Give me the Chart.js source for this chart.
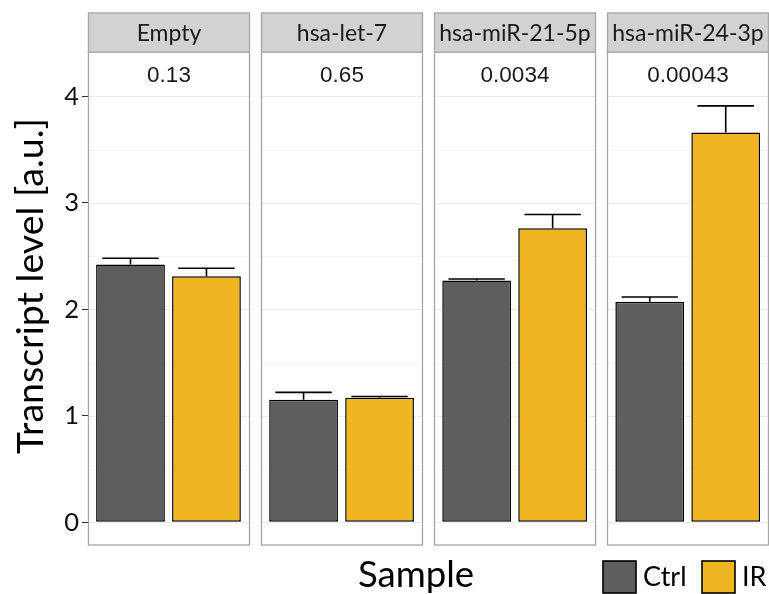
<!DOCTYPE html>
<html>
<head>
<meta charset="utf-8">
<script src="https://cdn.jsdelivr.net/npm/chart.js@4.4.1/dist/chart.umd.min.js"></script>
<style>
  html, body { margin: 0; padding: 0; background: #fff; }
  #wrap { position: relative; width: 769px; height: 594px; }
</style>
</head>
<body>
<div id="wrap"><canvas id="mirChart" width="769" height="594"></canvas></div>
<script>
// Datos del gráfico
const panels = ['Empty', 'hsa-let-7', 'hsa-miR-21-5p', 'hsa-miR-24-3p'];
const pValues = ['0.13', '0.65', '0.0034', '0.00043'];
const ctrlMean = [2.42, 1.15, 2.27, 2.07];
const ctrlErr = [0.06, 0.07, 0.015, 0.045];
const irMean = [2.31, 1.17, 2.76, 3.66];
const irErr = [0.075, 0.012, 0.13, 0.25];
const groups = ['Ctrl', 'IR'];
const yTicks = [0, 1, 2, 3, 4];
const yMinor = [0.5, 1.5, 2.5, 3.5];
const pLabelY = 4.19;

const colors = { Ctrl: '#5e5e5e', IR: '#efb522' };
const panelHalf = 0.464;
const stripHeight = 39;

// Plugin para paneles tipo facet (fondo, rejilla, cabeceras, barras de error)
const facetPlugin = {
    id: 'facets',
    beforeDatasetsDraw(chart) {
        const { ctx, chartArea, scales: { x, y } } = chart;
        ctx.save();
        panels.forEach((name, i) => {
            const left = Math.round(x.getPixelForValue(i - panelHalf)) + 0.5;
            const right = Math.round(x.getPixelForValue(i + panelHalf)) + 0.5;
            ctx.lineWidth = 1;
            yMinor.forEach(v => {
                const py = Math.round(y.getPixelForValue(v)) + 0.5;
                ctx.strokeStyle = '#f5f5f5';
                ctx.beginPath(); ctx.moveTo(left, py); ctx.lineTo(right, py); ctx.stroke();
            });
            yTicks.forEach(v => {
                const py = Math.round(y.getPixelForValue(v)) + 0.5;
                ctx.strokeStyle = '#ececec';
                ctx.beginPath(); ctx.moveTo(left, py); ctx.lineTo(right, py); ctx.stroke();
            });
            // borde del panel
            ctx.strokeStyle = '#a6a6a6';
            ctx.lineWidth = 1.3;
            ctx.strokeRect(left, chartArea.top, right - left, chartArea.bottom - chartArea.top);
            // cabecera
            const top = chartArea.top - stripHeight;
            ctx.fillStyle = '#d2d2d2';
            ctx.fillRect(left, top, right - left, stripHeight);
            ctx.strokeRect(left, top, right - left, stripHeight);
            ctx.fillStyle = '#1a1a1a';
            ctx.font = '23px Lato';
            ctx.textAlign = 'center';
            ctx.textBaseline = 'middle';
            ctx.fillText(name, (left + right) / 2, top + stripHeight / 2 + 1);
            // valor p
            ctx.font = '22.5px "Liberation Sans"';
            ctx.fillText(pValues[i], (left + right) / 2, y.getPixelForValue(pLabelY));
        });
        ctx.restore();
    },
    afterDatasetsDraw(chart) {
        const { ctx, scales: { y } } = chart;
        const errs = [ctrlErr, irErr];
        const means = [ctrlMean, irMean];
        ctx.save();
        ctx.strokeStyle = '#000';
        ctx.lineWidth = 1.6;
        chart.data.datasets.forEach((ds, d) => {
            chart.getDatasetMeta(d).data.forEach((bar, i) => {
                const top = y.getPixelForValue(means[d][i] + errs[d][i]);
                const half = bar.width * 0.41;
                ctx.beginPath();
                ctx.moveTo(bar.x, bar.y);
                ctx.lineTo(bar.x, top);
                ctx.moveTo(bar.x - half, top);
                ctx.lineTo(bar.x + half, top);
                ctx.stroke();
            });
        });
        ctx.restore();
    },
    afterDraw(chart) {
        const { ctx } = chart;
        ctx.save();
        ctx.fillStyle = '#000';
        // título eje Y
        ctx.font = '37.5px Lato';
        ctx.textAlign = 'center';
        ctx.textBaseline = 'alphabetic';
        ctx.translate(43, 286);
        ctx.rotate(-Math.PI / 2);
        ctx.fillText('Transcript level [a.u.]', 0, 0);
        ctx.restore();

        ctx.save();
        ctx.font = '36.5px Lato';
        ctx.textAlign = 'center';
        ctx.textBaseline = 'alphabetic';
        ctx.fillStyle = '#000';
        ctx.fillText('Sample', 416, 587);
        // leyenda
        const items = [{ label: 'Ctrl', x: 603 }, { label: 'IR', x: 702 }];
        ctx.font = '27px Lato';
        ctx.textAlign = 'left';
        ctx.textBaseline = 'middle';
        items.forEach(it => {
            ctx.fillStyle = colors[it.label];
            ctx.fillRect(it.x, 561, 33, 32);
            ctx.strokeStyle = '#000';
            ctx.lineWidth = 1.6;
            ctx.strokeRect(it.x, 561, 33, 32);
            ctx.fillStyle = '#000';
            ctx.fillText(it.label, it.x + 40, 577);
        });
        ctx.restore();
    }
};

document.addEventListener('DOMContentLoaded', function() {
    const ctx = document.getElementById('mirChart').getContext('2d');
    new Chart(ctx, {
        type: 'bar',
        data: {
            datasets: [
                {
                    label: 'Ctrl',
                    data: panels.map((p, i) => ({ x: i, y: ctrlMean[i] })),
                    backgroundColor: colors.Ctrl,
                    borderColor: '#000',
                    borderWidth: 1.5,
                    borderSkipped: false
                },
                {
                    label: 'IR',
                    data: panels.map((p, i) => ({ x: i, y: irMean[i] })),
                    backgroundColor: colors.IR,
                    borderColor: '#000',
                    borderWidth: 1.5,
                    borderSkipped: false
                }
            ]
        },
        options: {
            responsive: false,
            animation: false,
            categoryPercentage: 0.878,
            barPercentage: 0.905,
            layout: { padding: { top: 52, right: 2, bottom: 49, left: 0 } },
            plugins: {
                legend: { display: false },
                tooltip: { enabled: false }
            },
            scales: {
                x: {
                    type: 'linear',
                    display: false,
                    offset: false,
                    min: -0.465,
                    max: 3.458,
                    ticks: { stepSize: 1, includeBounds: false }
                },
                y: {
                    min: -0.213,
                    max: 4.416,
                    afterFit(scale) { scale.width = 88; },
                    afterBuildTicks(scale) { scale.ticks = yTicks.map(v => ({ value: v })); },
                    border: { display: false },
                    grid: {
                        drawOnChartArea: false,
                        drawTicks: true,
                        tickLength: 6,
                        color: '#333',
                        lineWidth: 1
                    },
                    ticks: {
                        padding: 3,
                        color: '#111',
                        font: { family: 'Lato', size: 25.5 }
                    }
                }
            }
        },
        plugins: [facetPlugin]
    });
});
</script>
</body>
</html>
